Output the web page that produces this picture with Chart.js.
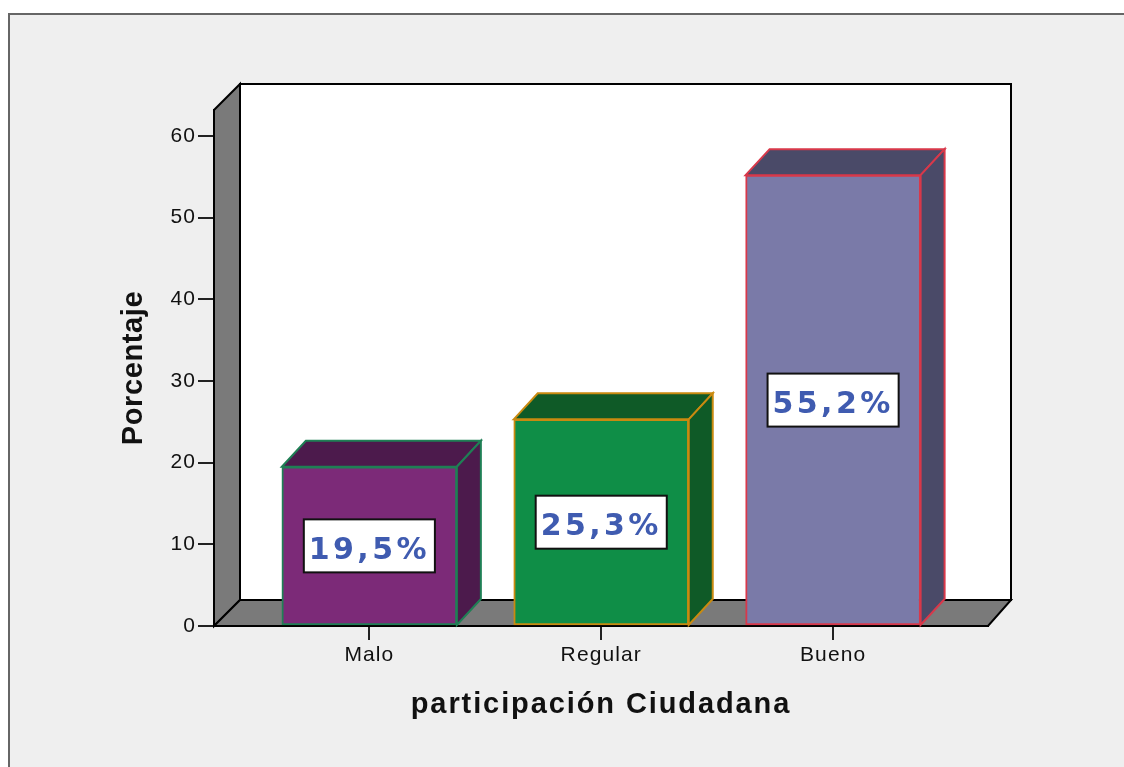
<!DOCTYPE html>
<html lang="es">
<head>
<meta charset="utf-8">
<title>participación Ciudadana</title>
<script src="https://cdn.jsdelivr.net/npm/chart.js@4/dist/chart.umd.min.js"></script>
<style>
html,body{margin:0;padding:0;background:#fff;overflow:hidden}
#wrap{position:absolute;left:0;top:0;width:1124px;height:767px}
canvas{display:block;filter:blur(0.45px)}
</style>
</head>
<body>
<div id="wrap"><canvas id="c" width="1124" height="767"></canvas></div>
<script>
const categories = ['Malo', 'Regular', 'Bueno'];
const percentages = [19.5, 25.3, 55.2];
const pctLabels = ['19,5%', '25,3%', '55,2%'];
const frontColors = ['#7c2a78', '#0f8e47', '#7a7aa8'];
const sideColors = ['#4c1a4c', '#0f5a27', '#4a4a68'];
const edgeColors = ['#1f7f55', '#c98a10', '#d8384a'];
const yTitle = 'Porcentaje';
const xTitle = 'participación Ciudadana';

const DX = 24, DY = 26;
const SPACING = {tick: '1.1px', yTitle: '0.6px', xTitle: '1.9px', label: '3.4px'};
const FONT_TICK = '"Liberation Sans", Arial, sans-serif';
const FONT_LABEL = '"DejaVu Sans", Verdana, sans-serif';

function poly(ctx, pts, fill, stroke, lw) {
  ctx.beginPath();
  pts.forEach((p, i) => i ? ctx.lineTo(p[0], p[1]) : ctx.moveTo(p[0], p[1]));
  ctx.closePath();
  if (fill) { ctx.fillStyle = fill; ctx.fill(); }
  if (stroke) { ctx.strokeStyle = stroke; ctx.lineWidth = lw; ctx.lineJoin = 'miter'; ctx.stroke(); }
}

const box3d = {
  id: 'box3d',
  install(chart) {
    const ctx = chart.ctx, orig = ctx.fillText.bind(ctx);
    ctx.fillText = function (t, x, y, m) {
      const s = t === xTitle ? SPACING.xTitle : t === yTitle ? SPACING.yTitle : pctLabels.includes(t) ? SPACING.label : SPACING.tick;
      ctx.letterSpacing = s;
      m === undefined ? orig(t, x, y) : orig(t, x, y, m);
      ctx.letterSpacing = '0px';
    };
  },
  beforeDraw(chart) {
    const {ctx, chartArea: a} = chart;
    ctx.save();
    ctx.fillStyle = '#fff';
    ctx.fillRect(0, 0, chart.width, chart.height);
    ctx.fillStyle = '#efefef';
    ctx.fillRect(9, 14, chart.width, chart.height);
    ctx.fillStyle = '#666';
    ctx.fillRect(8, 13, chart.width, 2);
    ctx.fillRect(8, 13, 2, chart.height);
    // back wall
    poly(ctx, [[a.left + DX + 2, a.top - DY], [a.right + DX - 1, a.top - DY], [a.right + DX - 1, a.bottom - DY], [a.left + DX + 2, a.bottom - DY]], '#fff', '#000', 2);
    // left wall
    poly(ctx, [[a.left, a.top], [a.left + DX + 2, a.top - DY], [a.left + DX + 2, a.bottom - DY], [a.left, a.bottom]], '#7a7a7a', '#000', 2);
    // floor
    poly(ctx, [[a.left, a.bottom], [a.left + DX + 2, a.bottom - DY], [a.right + DX - 1, a.bottom - DY], [a.right, a.bottom]], '#7a7a7a', '#000', 2);
    ctx.restore();
  },
  beforeDatasetsDraw(chart) {
    const ctx = chart.ctx;
    chart.getDatasetMeta(0).data.forEach((bar, i) => {
      const p = bar.getProps(['x', 'y', 'base', 'width'], true);
      const l = p.x - p.width / 2, r = p.x + p.width / 2, t = p.y, b = p.base;
      ctx.save();
      poly(ctx, [[l, t], [l + DX, t - DY], [r + DX, t - DY], [r, t]], sideColors[i], edgeColors[i], 2);
      poly(ctx, [[r, t], [r + DX, t - DY], [r + DX, b - DY], [r, b]], sideColors[i], edgeColors[i], 2);
      ctx.restore();
    });
  },
  afterDatasetsDraw(chart) {
    const ctx = chart.ctx;
    chart.getDatasetMeta(0).data.forEach((bar, i) => {
      const p = bar.getProps(['x', 'y', 'base'], true);
      const cy = (p.y + p.base) / 2;
      ctx.save();
      ctx.font = 'bold 30px ' + FONT_LABEL;
      ctx.letterSpacing = SPACING.label;
      const w = ctx.measureText(pctLabels[i]).width + 10;
      ctx.letterSpacing = '0px';
      ctx.fillStyle = '#fff';
      ctx.strokeStyle = '#111';
      ctx.lineWidth = 2;
      ctx.fillRect(p.x - w / 2, cy - 26.5, w, 53);
      ctx.strokeRect(p.x - w / 2, cy - 26.5, w, 53);
      ctx.fillStyle = '#3f5bb0';
      ctx.textAlign = 'center';
      ctx.textBaseline = 'middle';
      ctx.fillText(pctLabels[i], p.x, cy + 5);
      ctx.restore();
    });
  }
};

new Chart(document.getElementById('c'), {
  type: 'bar',
  data: {
    labels: categories,
    datasets: [{
      label: yTitle,
      data: categories.map((c, i) => ({x: i, y: percentages[i]})),
      backgroundColor: frontColors,
      borderColor: edgeColors,
      borderWidth: 2,
      borderSkipped: false,
      barThickness: 175
    }]
  },
  plugins: [box3d],
  options: {
    responsive: false,
    animation: false,
    devicePixelRatio: 1,
    layout: {padding: {left: 0, top: 110, right: 136, bottom: 0}},
    plugins: {legend: {display: false}, tooltip: {enabled: false}, title: {display: false}},
    scales: {
      x: {
        type: 'linear',
        offset: false,
        min: -0.67,
        max: 2.668,
        afterBuildTicks(s) { s.ticks = categories.map((c, i) => ({value: i})); },
        afterFit(s) { s.height = 141; },
        grid: {offset: false, drawOnChartArea: false, color: '#222', lineWidth: 2, tickLength: 14},
        border: {color: '#000', width: 2},
        ticks: {
          autoSkip: false, maxRotation: 0, padding: 3, color: '#111',
          font: {family: FONT_TICK, size: 21},
          callback: v => categories[v]
        },
        title: {
          display: true, text: xTitle, color: '#111',
          font: {family: FONT_TICK, size: 29, weight: 'bold'},
          padding: {top: 0, bottom: 45}
        }
      },
      y: {
        min: 0,
        max: 63.18,
        afterFit(s) { s.width = 214; },
        grid: {drawOnChartArea: false, color: '#222', lineWidth: 2, tickLength: 16},
        border: {color: '#000', width: 2},
        ticks: {
          stepSize: 10, includeBounds: false, padding: 2, color: '#111',
          font: {family: FONT_TICK, size: 21}
        },
        title: {
          display: true, text: yTitle, color: '#111',
          font: {family: FONT_TICK, size: 29, weight: 'bold'},
          padding: {top: 117, bottom: 117}
        }
      }
    }
  }
});
</script>
</body>
</html>
